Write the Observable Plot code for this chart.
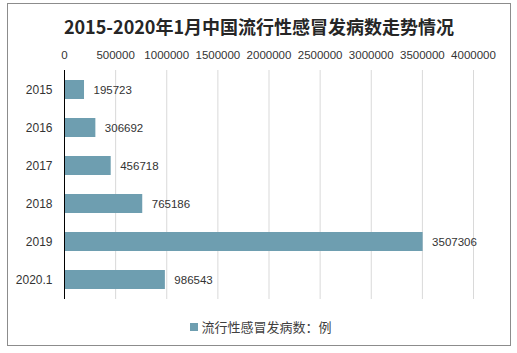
<!DOCTYPE html>
<html><head><meta charset="utf-8">
<script src="https://cdn.jsdelivr.net/npm/d3@7"></script>
<script src="https://cdn.jsdelivr.net/npm/@observablehq/plot@0.6"></script>
<style>
html,body{margin:0;padding:0;background:#fff;}
#wrap{position:relative;width:517px;height:353px;overflow:hidden;font-family:"Liberation Sans",Arial,sans-serif;}
#frame{position:absolute;left:7px;top:3px;width:504px;height:343px;border:1px solid #8c8c8c;box-sizing:border-box;}
#title{position:absolute;left:0;width:518px;top:14px;text-align:center;font-family:"Noto Sans CJK SC",sans-serif;font-weight:bold;font-size:18px;color:#262626;line-height:24px;}
#chart{position:absolute;left:0;top:40px;}
#legend{position:absolute;left:0;width:522px;top:318px;text-align:center;font-family:"Noto Sans CJK SC",sans-serif;font-size:13px;color:#404040;line-height:18px;}
#legend span.sw{display:inline-block;width:8px;height:8px;background:#6e9eb0;margin-right:3px;vertical-align:middle;position:relative;top:-1px;}
</style></head>
<body><div id="wrap"><div id="frame"></div><div id="title">2015-2020年1月中国流行性感冒发病数走势情况</div><div id="chart"></div><div id="legend"><span class="sw"></span>流行性感冒发病数：例</div></div>
<script>
const categories = ["2015","2016","2017","2018","2019","2020.1"];
const values = [195723, 306692, 456718, 765186, 3507306, 986543];
const xTicks = [0,500000,1000000,1500000,2000000,2500000,3000000,3500000,4000000];
const seriesName = "流行性感冒发病数：例";

const data = categories.map((c,i)=>({year:c, value:values[i]}));
const barColor = "#6e9eb0";

const chart = Plot.plot({
  width: 517,
  height: 265,
  marginLeft: 64,
  marginRight: 44,
  marginTop: 30,
  marginBottom: 6,
  style: {fontFamily: "'Liberation Sans', Arial, sans-serif", fontSize: "11.5px", color: "#333", background: "transparent"},
  x: {domain: [0, 4000000], axis: null},
  y: {domain: categories, paddingInner: 0.5, paddingOuter: 0.25, axis: null},
  marks: [
    Plot.ruleX(xTicks.slice(1), {stroke: "#d9d9d9", strokeWidth: 1}),
    Plot.barX(data, {y: "year", x: "value", fill: barColor}),
    Plot.ruleX([0], {stroke: "#000", strokeWidth: 1}),
    Plot.axisX({anchor: "top", ticks: xTicks, tickSize: 0, tickPadding: 12, tickFormat: d => String(d), fill: "#333", fontSize: 11.5, label: null}),
    Plot.axisY({anchor: "left", tickSize: 0, tickPadding: 12, fill: "#333", fontSize: 12, label: null}),
    Plot.text(data, {y: "year", x: "value", text: d => String(d.value), textAnchor: "start", dx: 9, fill: "#333", fontSize: 11.5})
  ]
});
document.getElementById("chart").appendChild(chart);
</script></body></html>
